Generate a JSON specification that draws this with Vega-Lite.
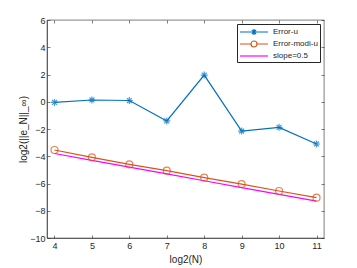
{
  "$schema": "https://vega.github.io/schema/vega-lite/v6.json",
  "width": 277,
  "height": 218,
  "autosize": "none",
  "padding": {"left": 47, "top": 20, "right": 33, "bottom": 30},
  "background": "white",
  "config": {
    "font": "Liberation Sans",
    "view": {"stroke": "#262626", "strokeWidth": 0.6},
    "axis": {
      "grid": false,
      "domainColor": "#262626",
      "tickColor": "#262626",
      "labelColor": "#262626",
      "titleColor": "#262626",
      "labelFontSize": 9,
      "titleFontSize": 10,
      "titleFontWeight": "normal",
      "tickSize": -3,
      "domainWidth": 0.6,
      "tickWidth": 0.6
    }
  },
  "data": {
    "values": [
      {"N": 4, "value": -0.05, "series": "Error-u"},
      {"N": 5, "value": 0.13, "series": "Error-u"},
      {"N": 6, "value": 0.09, "series": "Error-u"},
      {"N": 7, "value": -1.41, "series": "Error-u"},
      {"N": 8, "value": 1.96, "series": "Error-u"},
      {"N": 9, "value": -2.15, "series": "Error-u"},
      {"N": 10, "value": -1.88, "series": "Error-u"},
      {"N": 11, "value": -3.1, "series": "Error-u"},
      {"N": 4, "value": -3.54, "series": "Error-modi-u"},
      {"N": 5, "value": -4.08, "series": "Error-modi-u"},
      {"N": 6, "value": -4.6, "series": "Error-modi-u"},
      {"N": 7, "value": -5.06, "series": "Error-modi-u"},
      {"N": 8, "value": -5.57, "series": "Error-modi-u"},
      {"N": 9, "value": -6.04, "series": "Error-modi-u"},
      {"N": 10, "value": -6.55, "series": "Error-modi-u"},
      {"N": 11, "value": -7.04, "series": "Error-modi-u"},
      {"N": 4, "value": -3.8, "series": "slope=0.5"},
      {"N": 5, "value": -4.3, "series": "slope=0.5"},
      {"N": 6, "value": -4.8, "series": "slope=0.5"},
      {"N": 7, "value": -5.3, "series": "slope=0.5"},
      {"N": 8, "value": -5.8, "series": "slope=0.5"},
      {"N": 9, "value": -6.3, "series": "slope=0.5"},
      {"N": 10, "value": -6.8, "series": "slope=0.5"},
      {"N": 11, "value": -7.3, "series": "slope=0.5"}
    ]
  },
  "layer": [
    {
      "mark": {"type": "line", "strokeWidth": 1.2},
      "encoding": {
        "x": {"field": "N", "type": "quantitative", "scale": {"domain": [3.8, 11.2], "nice": false, "zero": false},
              "axis": {"title": "log2(N)", "values": [4,5,6,7,8,9,10,11], "labelPadding": 6, "titlePadding": 4}},
        "y": {"field": "value", "type": "quantitative", "scale": {"domain": [-10, 6], "nice": false, "zero": false},
              "axis": {"title": "log2(||e_N||_∞)", "values": [-10,-8,-6,-4,-2,0,2,4,6], "labelPadding": 5, "titlePadding": 1}},
        "color": {
          "field": "series", "type": "nominal",
          "scale": {"domain": ["Error-u", "Error-modi-u", "slope=0.5"], "range": ["#0072BD", "#D95319", "#FF00FF"]},
          "legend": {
            "title": null,
            "orient": "top-right",
            "offset": 4,
            "strokeColor": "#262626",
            "fillColor": "white",
            "padding": 2,
            "labelFontSize": 8,
            "labelColor": "#262626",
            "symbolSize": 100,
            "symbolStrokeWidth": 1.2,
            "rowPadding": 0,
            "labelOffset": 22,
            "encode": {
              "symbols": {
                "update": {
                  "shape": {"signal": "datum.value === 'Error-u' ? 'M-1,0L4.6,0M1.2,0L2.4,0M1.8,-0.6L1.8,0.6M1.38,-0.42L2.22,0.42M1.38,0.42L2.22,-0.42' : (datum.value === 'Error-modi-u' ? 'M-1,0L1.2,0M2.4,0L4.6,0M2.4,0A0.6,0.6,0,1,1,1.2,0A0.6,0.6,0,1,1,2.4,0' : 'M-1,0L4.6,0')"},
                  "fill": {"value": "transparent"}
                }
              }
            }
          }
        }
      }
    },
    {
      "transform": [{"filter": "datum.series !== 'slope=0.5'"}],
      "mark": {"type": "point", "filled": false, "strokeWidth": 1.2, "size": 49},
      "encoding": {
        "x": {"field": "N", "type": "quantitative", "axis": {"orient": "top", "tickCount": 8, "labels": false, "domain": false, "title": null}},
        "y": {"field": "value", "type": "quantitative", "axis": {"orient": "right", "tickCount": 8, "labels": false, "domain": false, "title": null}},
        "color": {"field": "series", "type": "nominal"},
        "shape": {
          "field": "series", "type": "nominal",
          "scale": {"domain": ["Error-u", "Error-modi-u"], "range": ["M-1,0L1,0M0,-1L0,1M-0.7,-0.7L0.7,0.7M-0.7,0.7L0.7,-0.7", "circle"]},
          "legend": null
        }
      }
    }
  ],
  "resolve": {"axis": {"x": "independent", "y": "independent"}}
}
